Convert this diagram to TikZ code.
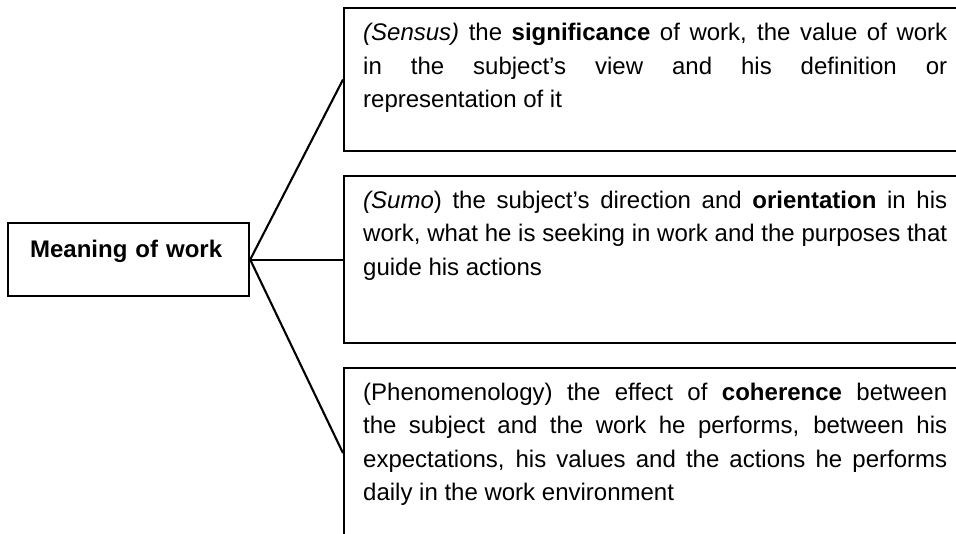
\documentclass[tikz,border=0pt]{standalone}
\usepackage{fontspec}
\setmainfont{Liberation Sans}
\newcommand{\paneltextfont}{\fontsize{24pt}{33.5pt}\selectfont}
\newcommand{\paneltextbody}[1]{\parbox[t]{584pt}{\paneltextfont\tolerance=10000\pretolerance=-1\hyphenpenalty=10000\parindent=0pt\strut #1\strut}}
\begin{document}
\begin{tikzpicture}[x=1pt,y=-1pt,
  panel/.style={draw=black, line width=2.2pt, rectangle, inner sep=0pt, anchor=north west, minimum width=700pt},
  paneltext/.style={anchor=north west, inner sep=0pt},
  link/.style={draw=black, line width=2.1pt},
  mainbox/.style={draw=black, line width=2.2pt, rectangle, inner xsep=22pt, inner ysep=0pt, text width=197pt, align=left, text height=34pt, text depth=39pt, anchor=north west, font=\fontsize{24pt}{30pt}\selectfont\bfseries}]
\useasboundingbox (0,0) rectangle (956,533);
\clip (0,0) rectangle (956,533);
% main box
\node[mainbox] (m) at (7,222) {Meaning of work};
% right panels
\node[panel, minimum height=143pt] (b1) at (343,7) {};
\node[panel, minimum height=167pt] (b2) at (343,175) {};
\node[panel, minimum height=170pt] (b3) at (343,367) {};
% texts
\node[paneltext] (t1) at (363,17.3) {\paneltextbody{\textit{(Sensus)} the \textbf{significance} of work, the value of work\linebreak in the subject’s view and his definition or\linebreak representation of it}};
\node[paneltext] (t2) at (363,184.5) {\paneltextbody{\textit{(Sumo}) the subject’s direction and \textbf{orientation} in his\linebreak work, what he is seeking in work and the purposes that\linebreak guide his actions}};
\node[paneltext] (t3) at (363,376.5) {\paneltextbody{(Phenomenology) the effect of \textbf{coherence} between\linebreak the subject and the work he performs, between his\linebreak expectations, his values and the actions he performs\linebreak daily in the work environment}};
% connectors
\draw[link] (m.east) -- (b1.west);
\draw[link] (m.east) -- (b2.west);
\draw[link] (m.east) -- (b3.west);
\end{tikzpicture}
\end{document}
